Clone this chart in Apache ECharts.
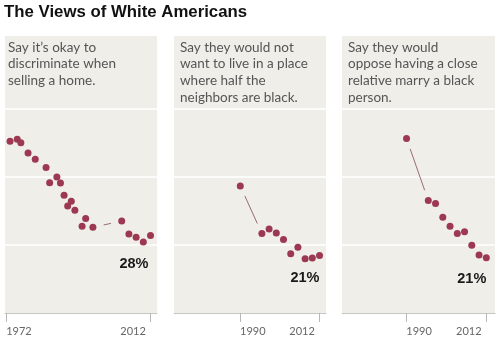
<!DOCTYPE html>
<html>
<head>
<meta charset="utf-8">
<script src="https://cdn.jsdelivr.net/npm/echarts@6/dist/echarts.min.js"></script>
<style>
html,body{margin:0;padding:0;background:#fff;}
#c{width:500px;height:357px;}
</style>
</head>
<body>
<div id="c"></div>
<script>
// ---- data ----
const chartTitle = 'The Views of White Americans';
const panelTitles = [
  'Say it\u2019s okay to\ndiscriminate when\nselling a home.',
  'Say they would not\nwant to live in a place\nwhere half the\nneighbors are black.',
  'Say they would\noppose having a close\nrelative marry a black\nperson.'
];
const years1 = [1973,1975,1976,1978,1980,1983,1984,1986,1987,1988,1989,1990,1991,1993,1994,1996,2004,2006,2008,2010,2012];
const values1 = [63.1,63.9,62.6,58.8,56.5,53.5,47.9,50.0,47.8,43.3,39.3,41.1,37.8,31.9,34.7,31.5,33.8,29.0,27.8,26.1,28.5];
const years2 = [1990,1996,1998,2000,2002,2004,2006,2008,2010,2012];
const values2 = [46.7,29.2,30.9,29.4,27.0,21.8,24.2,19.9,20.2,21.1];
const years3 = [1990,1996,1998,2000,2002,2004,2006,2008,2010,2012];
const values3 = [64.1,41.3,40.2,35.2,31.9,29.2,29.9,24.9,21.3,20.3];
const finalLabels = ['28%','21%','21%'];
const tickYears = [[1972,2012],[1990,2012],[1990,2012]];
const gridValues = [25,50,75];

// ---- layout / style ----
const panels = [
  {years: years1, values: values1, left: 5,   width: 152, min: 1971.6, max: 2013.8, textLeft: 8,   lab: [-2, 28.5]},
  {years: years2, values: values2, left: 174, width: 152, min: 1971.6, max: 2013.8, textLeft: 180, lab: [0, 22.7]},
  {years: years3, values: values3, left: 342, width: 153, min: 1972.2, max: 2014.4, textLeft: 348, lab: [0, 20.8]}
];
const dotColor = '#9c3852';
const panelBg = '#efeee9';

const grids = [], xAxes = [], yAxes = [], series = [];
const titles = [{
  text: chartTitle, left: 4, top: 2, padding: 0,
  textStyle: {fontFamily: 'Liberation Sans', fontWeight: 'bold', fontSize: 16.8, color: '#111', lineHeight: 21}
}];

panels.forEach((p, i) => {
  grids.push({left: p.left, width: p.width, top: 36, height: 277, show: true, backgroundColor: panelBg, borderWidth: 0});
  const ty = tickYears[i];
  xAxes.push({
    gridIndex: i, type: 'value', min: p.min, max: p.max,
    splitLine: {show: false},
    axisLine: {show: true, lineStyle: {color: '#c6c6c2', width: 1}},
    axisTick: {show: true, customValues: ty, length: 9, lineStyle: {color: '#b8b8b4', width: 1}},
    axisLabel: {
      show: true, customValues: ty, margin: 13,
      formatter: v => (v === ty[0] ? '{l|' + v + '}' : '{r|' + v + '}'),
      rich: {
        l: {padding: [0, 0, 0, 25], fontFamily: 'Lato', fontSize: 11, color: '#666'},
        r: {padding: [0, 35, 0, 0], fontFamily: 'Lato', fontSize: 11, color: '#666'}
      }
    }
  });
  yAxes.push({gridIndex: i, type: 'value', min: 0, max: 101.8, show: false, splitLine: {show: false}});
  titles.push({
    text: panelTitles[i], left: p.textLeft, top: 39, padding: 0,
    textStyle: {fontFamily: 'Lato', fontWeight: 'normal', fontSize: 13.5, lineHeight: 16.7, color: '#555'}
  });

  // white reference lines at 25 / 50 / 75 %
  series.push({
    type: 'scatter', xAxisIndex: i, yAxisIndex: i, z: 1, silent: true,
    data: [], symbolSize: 0,
    markLine: {
      silent: true, symbol: ['none', 'none'], label: {show: false}, z: 1,
      lineStyle: {color: '#ffffff', width: 1.5, type: 'solid'},
      data: gridValues.map(v => ({yAxis: v}))
    }
  });

  // connector lines for long gaps between surveys
  const links = [];
  for (let k = 1; k < p.years.length; k++) {
    if (p.years[k] - p.years[k - 1] >= 4) {
      links.push([p.years[k - 1], p.values[k - 1], p.years[k], p.values[k]]);
    }
  }
  series.push({
    type: 'custom', xAxisIndex: i, yAxisIndex: i, z: 2, silent: true,
    encode: {x: [0, 2], y: [1, 3]},
    data: links,
    renderItem: function (params, api) {
      const a = api.coord([api.value(0), api.value(1)]);
      const b = api.coord([api.value(2), api.value(3)]);
      const dx = b[0] - a[0], dy = b[1] - a[1];
      const len = Math.sqrt(dx * dx + dy * dy);
      const ux = dx / len, uy = dy / len, g = 11;
      return {
        type: 'line',
        shape: {x1: a[0] + ux * g, y1: a[1] + uy * g, x2: b[0] - ux * g, y2: b[1] - uy * g},
        style: {stroke: '#9a6a76', lineWidth: 1}
      };
    }
  });

  const data = p.years.map((y, k) => {
    const item = {value: [y, p.values[k]]};
    if (k === p.years.length - 1) {
      item.label = {
        show: true, formatter: finalLabels[i], position: 'inside',
        align: 'right', verticalAlign: 'middle', offset: p.lab,
        fontFamily: 'Liberation Sans', fontWeight: 'bold', fontSize: 14.5, color: '#1a1a1a'
      };
    }
    return item;
  });
  series.push({
    type: 'scatter', xAxisIndex: i, yAxisIndex: i, z: 5,
    symbol: 'circle', symbolSize: 7,
    itemStyle: {color: dotColor, opacity: 1},
    label: {show: false},
    data: data
  });
});

const chart = echarts.init(document.getElementById('c'), null, {renderer: 'canvas'});
chart.setOption({
  animation: false,
  backgroundColor: '#fff',
  title: titles,
  grid: grids,
  xAxis: xAxes,
  yAxis: yAxes,
  series: series
});
</script>
</body>
</html>
